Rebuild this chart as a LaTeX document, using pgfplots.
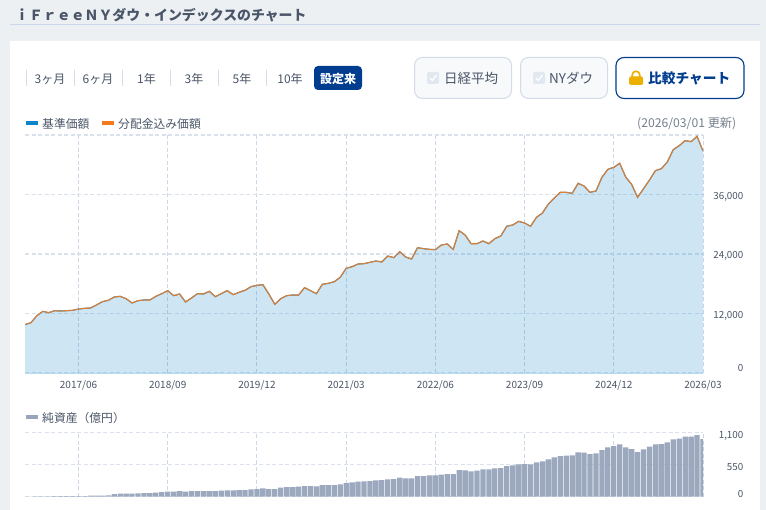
\documentclass[border=0pt]{standalone}
\usepackage{fontspec}
\setmainfont{Noto Sans CJK JP}
\usepackage{pgfplots}
\usepackage{pgfplotstable}
\pgfplotsset{compat=1.18}
\definecolor{bgc}{HTML}{ECF0F3}
\definecolor{rulec}{HTML}{CBD6E8}
\definecolor{navy}{HTML}{003D8F}
\definecolor{txt}{HTML}{4A5568}
\definecolor{gridc}{HTML}{CCD7E8}
\definecolor{gridh}{HTML}{DAE1EC}
\definecolor{bluec}{HTML}{0A85C9}
\definecolor{orangec}{HTML}{F57A1F}
\definecolor{linec}{HTML}{D5803C}
\definecolor{barc}{HTML}{98A6BC}
\definecolor{btnb}{HTML}{D3DCE8}
\definecolor{btnf}{HTML}{F7F9FB}
\definecolor{chk}{HTML}{E2E8F0}
\definecolor{gold}{HTML}{EBB000}
\newcommand{\fs}[1]{\fontsize{#1}{#1}\selectfont}
\newcommand{\lbl}[2]{\raisebox{#1}[0pt][0pt]{#2}}
\pgfplotstableread{
i price
0 9748
1 10151
2 11563
3 12437
4 12168
5 12571
6 12504
7 12571
8 12638
9 12908
10 13042
11 13109
12 13714
13 14387
14 14655
15 15328
16 15462
17 14992
18 14118
19 14589
20 14723
21 14723
22 15462
23 15999
24 16605
25 15596
26 15933
27 14319
28 15126
29 15999
30 15933
31 16470
32 15395
33 15999
34 16605
35 15798
36 16269
37 16672
38 17412
39 17680
40 17815
41 15933
42 13849
43 14992
44 15596
45 15731
46 15731
47 17210
48 16605
49 15999
50 17882
51 18084
52 18420
53 19294
54 21110
55 21445
56 21983
57 22050
58 22320
59 22588
60 22386
61 23597
62 23260
63 24470
64 23395
65 22992
66 25277
67 25075
68 24941
69 24874
70 25815
71 26017
72 24941
73 28706
74 27832
75 26084
76 26084
77 26622
78 26084
79 27092
80 27630
81 29600
82 29849
83 30588
84 30252
85 29580
86 31395
87 32269
88 34084
89 35294
90 36437
91 36437
92 36235
93 38252
94 37714
95 36437
96 36706
97 39462
98 41076
99 41479
100 42286
101 39529
102 38051
103 35429
104 37177
105 38924
106 40807
107 41210
108 42554
109 45042
110 45849
111 46857
112 46655
113 47731
114 44773
}\pricetable
\pgfplotstableread{
i nav
0 3
1 3
2 6
3 6
4 6
5 11
6 11
7 11
8 11
9 11
10 11
11 17
12 17
13 17
14 23
15 46
16 52
17 52
18 52
19 57
20 63
21 63
22 69
23 80
24 86
25 86
26 97
27 86
28 97
29 97
30 97
31 97
32 97
33 103
34 109
35 109
36 115
37 115
38 126
39 132
40 143
41 132
42 132
43 155
44 166
45 166
46 172
47 183
48 183
49 178
50 201
51 201
52 201
53 212
54 235
55 246
56 258
57 264
58 269
59 281
60 286
61 298
62 304
63 327
64 315
65 315
66 355
67 355
68 367
69 367
70 378
71 390
72 390
73 458
74 453
75 435
76 447
77 470
78 470
79 487
80 493
81 527
82 539
83 556
84 561
85 556
86 590
87 607
88 642
89 676
90 699
91 705
92 710
93 762
94 756
95 733
96 745
97 802
98 848
99 871
100 900
101 848
102 819
103 768
104 814
105 859
106 900
107 905
108 934
109 985
110 997
111 1031
112 1031
113 1060
114 991
}\navtable
\pgfplotsset{
  common/.style={
    at={(25pt,-#1pt)}, anchor=south west,
    scale only axis, width=678pt,
    xmin=0, xmax=114,
    axis line style={draw=none},
    major tick length=0pt,
    grid=both,
    scaled y ticks=false,
    x grid style={gridc, line width=1pt, dash pattern=on 4pt off 2.5pt},
    y grid style={gridh, line width=1.2pt, dash pattern=on 4pt off 2.5pt},
    xtick={9,24,39,54,69,84,99,114},
    yticklabel pos=right,
    yticklabel style={anchor=east, inner sep=0pt, xshift=40.5pt, font=\fs{9.8}, text=txt},
    xticklabel style={inner sep=0pt, font=\fs{10}, text=txt, yshift=-7pt},
  }
}
\begin{document}
\begin{tikzpicture}[x=1pt,y=-1pt]
\path[use as bounding box, fill=bgc] (0,0) rectangle (766,510);
\fill[white] (10,41) rectangle (760,510);
\draw[rulec, line width=1pt] (10,24.5) -- (760,24.5);
\node[anchor=west, inner sep=0pt, text=txt] at (15,15) {\fs{13.9}\bfseries ｉＦｒｅｅＮＹダウ・インデックスのチャート};
% period tabs
\foreach \x in {26.5,74.5,122.5,170.5,218.5,266.5}
  \draw[btnb, line width=1pt] (\x,70) -- (\x,86);
\foreach \x/\t in {50/3ヶ月,98/6ヶ月,146.5/1年,194/3年,242/5年,290/10年}
  \node[inner sep=0pt, text=txt] at (\x,79) {\fs{12}\t};
\fill[navy, rounded corners=4pt] (314,66) rectangle (362,90);
\node[inner sep=0pt, text=white] at (338,79) {\fs{12}\bfseries 設定来};
% buttons
\draw[btnb, fill=btnf, line width=1pt, rounded corners=8pt] (414.5,57.5) rectangle (511.5,98.5);
\draw[btnb, fill=btnf, line width=1pt, rounded corners=8pt] (520.5,57.5) rectangle (607.5,98.5);
\draw[navy, fill=white, line width=1.1pt, rounded corners=8pt] (616,57.5) rectangle (744,98.5);
\foreach \x in {427,533}{
  \fill[chk, rounded corners=1.5pt] (\x,72) rectangle (\x+12,84);
  \draw[white, line width=1.2pt] (\x+3,78) -- (\x+5.3,80.5) -- (\x+9.5,75);
}
\node[anchor=west, inner sep=0pt, text=txt] at (444,78.5) {\fs{13.5}日経平均};
\node[anchor=west, inner sep=0pt, text=txt] at (549,78.5) {\fs{13.5}NYダウ};
\fill[gold, rounded corners=1.5pt] (629,76.5) rectangle (643,85);
\draw[gold, line width=1.6pt] (632.2,77) -- (632.2,75) arc[start angle=180, end angle=360, radius=3.8] -- (639.8,77);
\node[anchor=west, inner sep=0pt, text=navy] at (648,78.5) {\fs{13.7}\bfseries 比較チャート};
% legends
\fill[bluec] (26,121.3) rectangle (38,124.7);
\node[anchor=west, inner sep=0pt, text=txt] at (42,124) {\fs{11.8}基準価額};
\fill[orangec] (102,121.3) rectangle (114,124.7);
\node[anchor=west, inner sep=0pt, text=txt] at (118,124) {\fs{11.8}分配金込み価額};
\node[anchor=east, inner sep=0pt, text=txt!75] at (736.5,124) {\fs{12.2}(2026/03/01 更新)};
\fill[barc] (26,415.3) rectangle (38,418.7);
\node[anchor=west, inner sep=0pt, text=txt] at (42,418) {\fs{11.8}純資産（億円）};
% main chart
\begin{axis}[common=373, height=238pt,
  ymin=0, ymax=48000,
  ytick={0,12000,24000,36000,48000},
  yticklabels={\lbl{1.3pt}{0},\lbl{-4.8pt}{12,000},\lbl{-4.8pt}{24,000},\lbl{-4.8pt}{36,000},{}},
  xticklabels={2017/06,2018/09,2019/12,2021/03,2022/06,2023/09,2024/12,2026/03},
]
\addplot[fill=bluec, fill opacity=0.2, draw=none] table[x=i,y=price] {\pricetable} \closedcycle;
\addplot[bluec, line width=1pt] table[x=i,y=price] {\pricetable};
\addplot[linec, line width=1.2pt] table[x=i,y=price] {\pricetable};
\end{axis}
\draw[bluec!30, line width=1pt] (25,373.3) -- (703,373.3);
% NAV chart
\begin{axis}[common=496.7, height=64pt,
  ymin=0, ymax=1100,
  ytick={0,550,1100},
  yticklabels={\lbl{-0.8pt}{0},\lbl{-5.7pt}{550},\lbl{-5.7pt}{1,100}},
  xticklabels={},
]
\addplot[ybar, bar width=5.3pt, fill=barc, draw=none, fill opacity=0.97] table[x=i,y=nav] {\navtable};
\end{axis}
\end{tikzpicture}
\end{document}
